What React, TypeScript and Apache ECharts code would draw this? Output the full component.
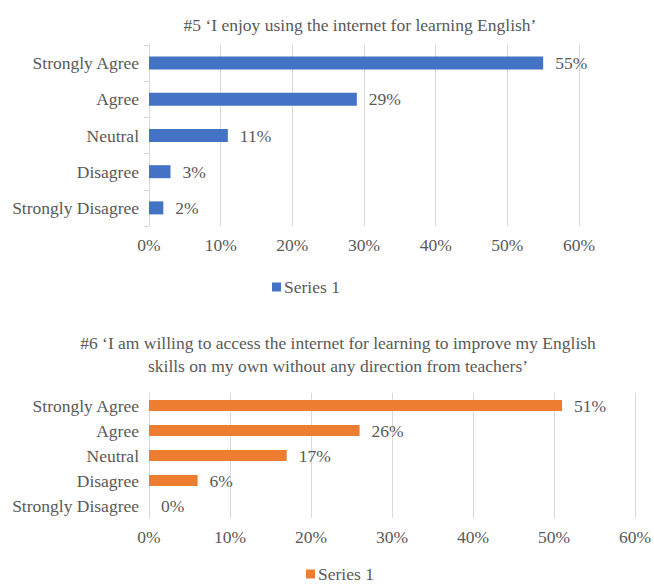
import React, { useEffect, useRef } from "react";
import * as echarts from "echarts";

const categories = ["Strongly Agree", "Agree", "Neutral", "Disagree", "Strongly Disagree"];
const values5 = [55, 29, 11, 3, 2];
const values6 = [51, 26, 17, 6, 0];
const xTicks = [0, 10, 20, 30, 40, 50, 60];
const title5 = "#5 \u2018I enjoy using the internet for learning English\u2019";
const title6 =
  "#6 \u2018I am willing to access the internet for learning to improve my English\nskills on my own without any direction from teachers\u2019";
const seriesName = "Series 1";

const FONT = "Liberation Serif";
const GRAY = "#595959";
const BLUE = "#4472C4";
const ORANGE = "#ED7D31";
const FS = 17.5;

function xAxis(gridIndex: number) {
  return {
    type: "value",
    gridIndex,
    min: xTicks[0],
    max: xTicks[xTicks.length - 1],
    interval: 10,
    axisLine: { show: false },
    axisTick: { show: false },
    splitLine: { show: true, lineStyle: { color: "#d9d9d9", width: 1 } },
    axisLabel: { color: GRAY, fontFamily: FONT, fontSize: FS, margin: 10, formatter: "{value}%" },
  };
}

function yAxis(gridIndex: number, showTicks: boolean) {
  return {
    type: "category",
    gridIndex,
    data: categories,
    inverse: true,
    axisLine: { show: true, lineStyle: { color: "#d9d9d9" } },
    axisTick: { show: showTicks, length: 5, lineStyle: { color: "#d9d9d9" } },
    axisLabel: { color: GRAY, fontFamily: FONT, fontSize: FS, margin: 10 },
  };
}

function barLabel() {
  return {
    show: true,
    position: "right",
    distance: 12,
    color: GRAY,
    fontFamily: FONT,
    fontSize: FS,
    formatter: "{c}%",
  };
}

function legend(left: number, top: number, color: string) {
  return {
    data: [{ name: seriesName, itemStyle: { color } }],
    left,
    top,
    icon: "rect",
    itemWidth: 9,
    itemHeight: 9,
    itemGap: 4,
    selectedMode: false,
    textStyle: { color: GRAY, fontFamily: FONT, fontSize: FS, padding: [0, 0, 0, -2] },
  };
}

export default function App() {
  const ref = useRef<HTMLDivElement>(null);
  useEffect(() => {
    document.body.style.margin = "0";
    const chart = echarts.init(ref.current!, null, { renderer: "svg" });
    chart.setOption({
      animation: false,
      backgroundColor: "#ffffff",
      title: [
        {
          text: title5,
          left: 355,
          top: 11,
          textAlign: "center",
          textStyle: { color: GRAY, fontFamily: FONT, fontSize: FS, fontWeight: "normal" },
        },
        {
          text: title6,
          left: 333,
          top: 326,
          textAlign: "center",
          textStyle: { color: GRAY, fontFamily: FONT, fontSize: FS, fontWeight: "normal", lineHeight: 23 },
        },
      ],
      legend: [legend(267, 273, BLUE), legend(301, 560, ORANGE)],
      grid: [
        { left: 149, right: 75, top: 45, height: 181 },
        { left: 149, right: 17, top: 393, height: 125 },
      ],
      xAxis: [xAxis(0), xAxis(1)],
      yAxis: [yAxis(0, true), yAxis(1, false)],
      series: [
        {
          name: seriesName,
          type: "bar",
          xAxisIndex: 0,
          yAxisIndex: 0,
          data: values5,
          barWidth: 13,
          itemStyle: { color: BLUE },
          label: barLabel(),
        },
        {
          name: seriesName,
          type: "bar",
          xAxisIndex: 1,
          yAxisIndex: 1,
          data: values6,
          barWidth: 11,
          itemStyle: { color: ORANGE },
          label: barLabel(),
        },
      ],
    });
    return () => chart.dispose();
  }, []);
  return <div ref={ref} style={{ width: 654, height: 584 }} />;
}
